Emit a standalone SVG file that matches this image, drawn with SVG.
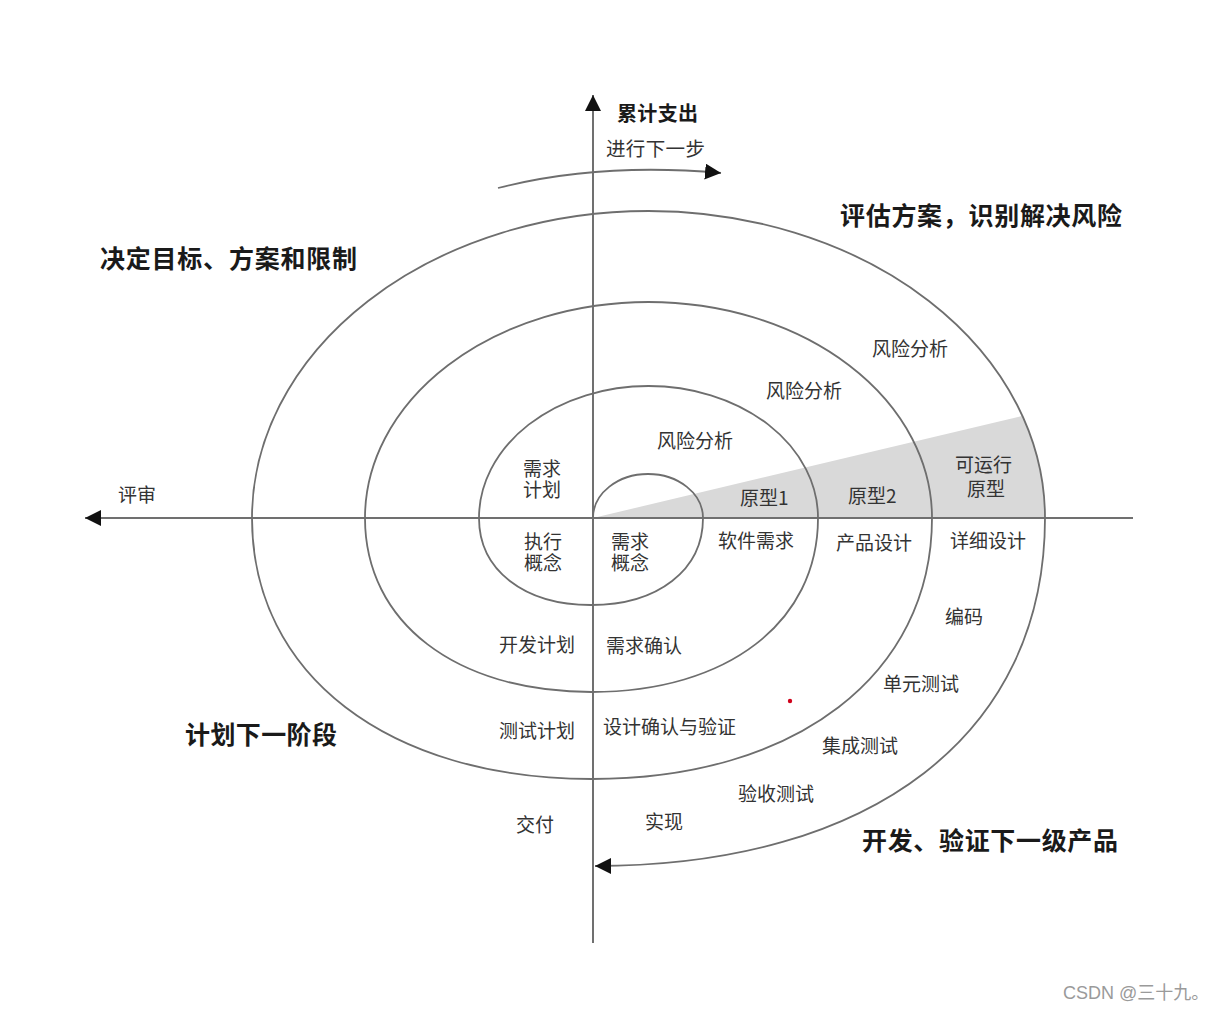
<svg xmlns="http://www.w3.org/2000/svg" width="1218" height="1011" viewBox="0 0 1218 1011">
<style>
.ln{fill:none;stroke:#6e6e6e;stroke-width:1.8}
.ax{fill:none;stroke:#707070;stroke-width:2}
.t{font-family:"Noto Sans CJK SC","Liberation Sans",sans-serif;font-size:19px;fill:#333}
.h{font-family:"Noto Sans CJK SC","Liberation Sans",sans-serif;font-size:25px;font-weight:bold;fill:#1a1a1a}
.wm{font-family:"Liberation Sans","Noto Sans CJK SC",sans-serif;font-size:18px;fill:#9a9a9a}
</style>
<defs>
<marker id="arr" markerUnits="userSpaceOnUse" viewBox="0 0 16 16" refX="16" refY="8" markerWidth="16" markerHeight="16" orient="auto">
<path d="M0,0 L16,8 L0,16 Z" fill="#111"/>
</marker>
</defs>
<rect width="1218" height="1011" fill="#fff"/>
<path id="wedge" d="M593,518 L1022,416 A396.5,307 0 0 1 1045,518 Z" fill="#d9d9d9"/>
<g id="connectors">
<line class="ax" x1="593" y1="943" x2="593" y2="95" marker-end="url(#arr)"/>
<line class="ax" x1="1133" y1="518" x2="85" y2="518" marker-end="url(#arr)"/>
<path class="ln" d="M498,188 Q600,162 721,173" marker-end="url(#arr)"/>
<path class="ln" d="M593,518 A55,44 0 0 1 703,518 C703,570 658,605 591,605 C524,605 479,570 479,518 A169.5,132 0 0 1 818,518 C818,622.4 727.4,692 591.5,692 C455.6,692 365,622.4 365,518 A283.5,216 0 0 1 932,518 C932,674.6 796,779 592,779 C388,779 252,674.6 252,518 A396.5,307 0 0 1 1045,518 C1045,733.8 873,866 595,866" marker-end="url(#arr)"/>
</g>
<circle cx="790" cy="701" r="2.2" fill="#d0021b"/>
<g id="titles">
<g id="t-cost"><text class="h" x="617" y="120.5" style="font-size:20px" textLength="81">累计支出</text></g>
<g id="t-next"><text class="t" x="606" y="155.5" style="font-size:19.5px" textLength="99">进行下一步</text></g>
<g id="t-q1"><text class="h" x="840" y="224.5" textLength="282">评估方案，识别解决风险</text></g>
<g id="t-q2"><text class="h" x="100" y="267.5" textLength="257">决定目标、方案和限制</text></g>
<g id="t-q3"><text class="h" x="185" y="743.5" textLength="152">计划下一阶段</text></g>
<g id="t-q4"><text class="h" x="862" y="849.5" textLength="256">开发、验证下一级产品</text></g>
</g>
<g id="labels">
<g id="n-review"><text class="t" x="118" y="502">评审</text></g>
<g id="n-risk3"><text class="t" x="872" y="356">风险分析</text></g>
<g id="n-risk2"><text class="t" x="766" y="398">风险分析</text></g>
<g id="n-risk1"><text class="t" x="657" y="448">风险分析</text></g>
<g id="n-reqplan"><text class="t" x="523" y="476">需求<tspan x="523" dy="21">计划</tspan></text></g>
<g id="n-exec"><text class="t" x="524" y="549">执行<tspan x="524" dy="21">概念</tspan></text></g>
<g id="n-reqconcept"><text class="t" x="611" y="549">需求<tspan x="611" dy="21">概念</tspan></text></g>
<g id="n-proto1"><text class="t" x="740" y="505">原型1</text></g>
<g id="n-proto2"><text class="t" x="848" y="503">原型2</text></g>
<g id="n-proto3"><text class="t" x="955" y="472">可运行<tspan x="967" dy="24">原型</tspan></text></g>
<g id="n-swreq"><text class="t" x="718" y="548">软件需求</text></g>
<g id="n-pdesign"><text class="t" x="836" y="550">产品设计</text></g>
<g id="n-ddesign"><text class="t" x="950" y="548">详细设计</text></g>
<g id="n-code"><text class="t" x="945" y="624">编码</text></g>
<g id="n-unit"><text class="t" x="883" y="691">单元测试</text></g>
<g id="n-integ"><text class="t" x="822" y="753">集成测试</text></g>
<g id="n-accept"><text class="t" x="738" y="801">验收测试</text></g>
<g id="n-impl"><text class="t" x="645" y="829">实现</text></g>
<g id="n-deliver"><text class="t" x="516" y="832">交付</text></g>
<g id="n-devplan"><text class="t" x="499" y="652">开发计划</text></g>
<g id="n-reqconf"><text class="t" x="606" y="653">需求确认</text></g>
<g id="n-testplan"><text class="t" x="499" y="738">测试计划</text></g>
<g id="n-dconf"><text class="t" x="603" y="734">设计确认与验证</text></g>
</g>
<text class="wm" x="1063" y="999">CSDN @三十九。</text>
</svg>
